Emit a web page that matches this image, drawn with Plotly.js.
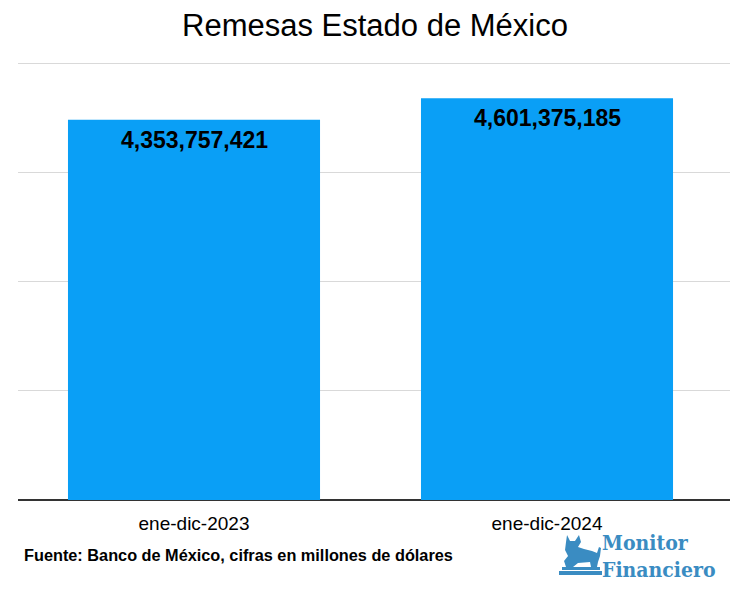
<!DOCTYPE html>
<html>
<head>
<meta charset="utf-8">
<script src="https://cdn.plot.ly/plotly-3.0.1.min.js"></script>
<style>
  html, body { margin: 0; padding: 0; background: #fff; }
  #chart { width: 750px; height: 593px; }
</style>
</head>
<body>
<div id="chart"></div>
<script>
// Remesas Estado de México (dólares)
const periods = ['ene-dic-2023', 'ene-dic-2024'];
const remesas = [4353757421, 4601375185];
const gridTicks = [0, 1250000000, 2500000000, 3750000000, 5000000000];

const W = 750, H = 593;
const M = { l: 18, r: 20, t: 59, b: 93 };
const logoBlue = '#3a8cc2';

// pixel -> paper coordinates (for the logo decoration only)
function px(x) { return (x - M.l) / (W - M.l - M.r); }
function py(y) { return (H - M.b - y) / (H - M.t - M.b); }

function pathFrom(points) {
  return 'M' + points.map(p => px(p[0]).toFixed(4) + ',' + py(p[1]).toFixed(4)).join(' L') + ' Z';
}

const bull = [
  [567, 535], [570, 541], [575, 541], [579, 535], [581, 542], [578, 547],
  [584, 549], [592, 551], [597, 553], [599, 547], [601, 548], [600, 556],
  [598, 562], [597, 567], [591, 567], [590, 562], [578, 563], [573, 567],
  [566, 567], [564, 561], [568, 556], [565, 550], [566, 542]
];

const trace = {
  type: 'bar',
  x: periods,
  y: remesas,
  marker: { color: '#0a9ff6' },
  hoverinfo: 'none'
};

const valueLabels = periods.map((p, i) => ({
  x: p,
  y: remesas[i],
  xref: 'x', yref: 'y',
  text: remesas[i].toLocaleString('en-US'),
  showarrow: false,
  yanchor: 'top',
  yshift: -5,
  font: { size: 23, color: '#000', weight: 'bold' }
}));

const layout = {
  width: W,
  height: H,
  margin: M,
  paper_bgcolor: '#fff',
  plot_bgcolor: '#fff',
  bargap: 0.286,
  showlegend: false,
  font: { family: 'Liberation Sans, Arial, sans-serif', color: '#000' },
  title: {
    text: 'Remesas Estado de México',
    font: { size: 31, color: '#000' },
    x: 0.5, xanchor: 'center',
    y: 0.957, yanchor: 'middle'
  },
  xaxis: {
    range: [-0.4986, 1.5184],
    tickfont: { size: 19, color: '#000' },
    ticks: '',
    ticklabelstandoff: 10,
    showline: false,
    fixedrange: true
  },
  yaxis: {
    range: [0, 5050000000],
    tickvals: gridTicks,
    showticklabels: false,
    gridcolor: '#d9d9d9',
    gridwidth: 1,
    zeroline: true,
    zerolinecolor: '#333',
    zerolinewidth: 1.5,
    fixedrange: true
  },
  shapes: [
    { type: 'path', xref: 'paper', yref: 'paper', path: pathFrom(bull),
      fillcolor: logoBlue, line: { width: 0 } },
    { type: 'rect', xref: 'paper', yref: 'paper', x0: px(562), x1: px(600), y0: py(570), y1: py(567),
      fillcolor: logoBlue, line: { width: 0 } },
    { type: 'rect', xref: 'paper', yref: 'paper', x0: px(559), x1: px(602), y0: py(575), y1: py(571),
      fillcolor: logoBlue, line: { width: 0 } }
  ],
  annotations: valueLabels.concat([
    {
      text: 'Fuente: Banco de México, cifras en millones de dólares',
      xref: 'paper', yref: 'paper',
      x: px(22), y: py(555), xanchor: 'left', yanchor: 'middle',
      showarrow: false,
      font: { size: 16.3, color: '#000', weight: 'bold' }
    },
    {
      text: 'Monitor<br>Financiero',
      xref: 'paper', yref: 'paper',
      x: px(600), y: py(556), xanchor: 'left', yanchor: 'middle',
      align: 'left',
      showarrow: false,
      font: { family: 'DejaVu Serif Condensed, Liberation Serif, serif', size: 21, color: logoBlue, weight: 'bold' }
    }
  ])
};

Plotly.newPlot('chart', [trace], layout, { displayModeBar: false, staticPlot: true });
</script>
</body>
</html>
